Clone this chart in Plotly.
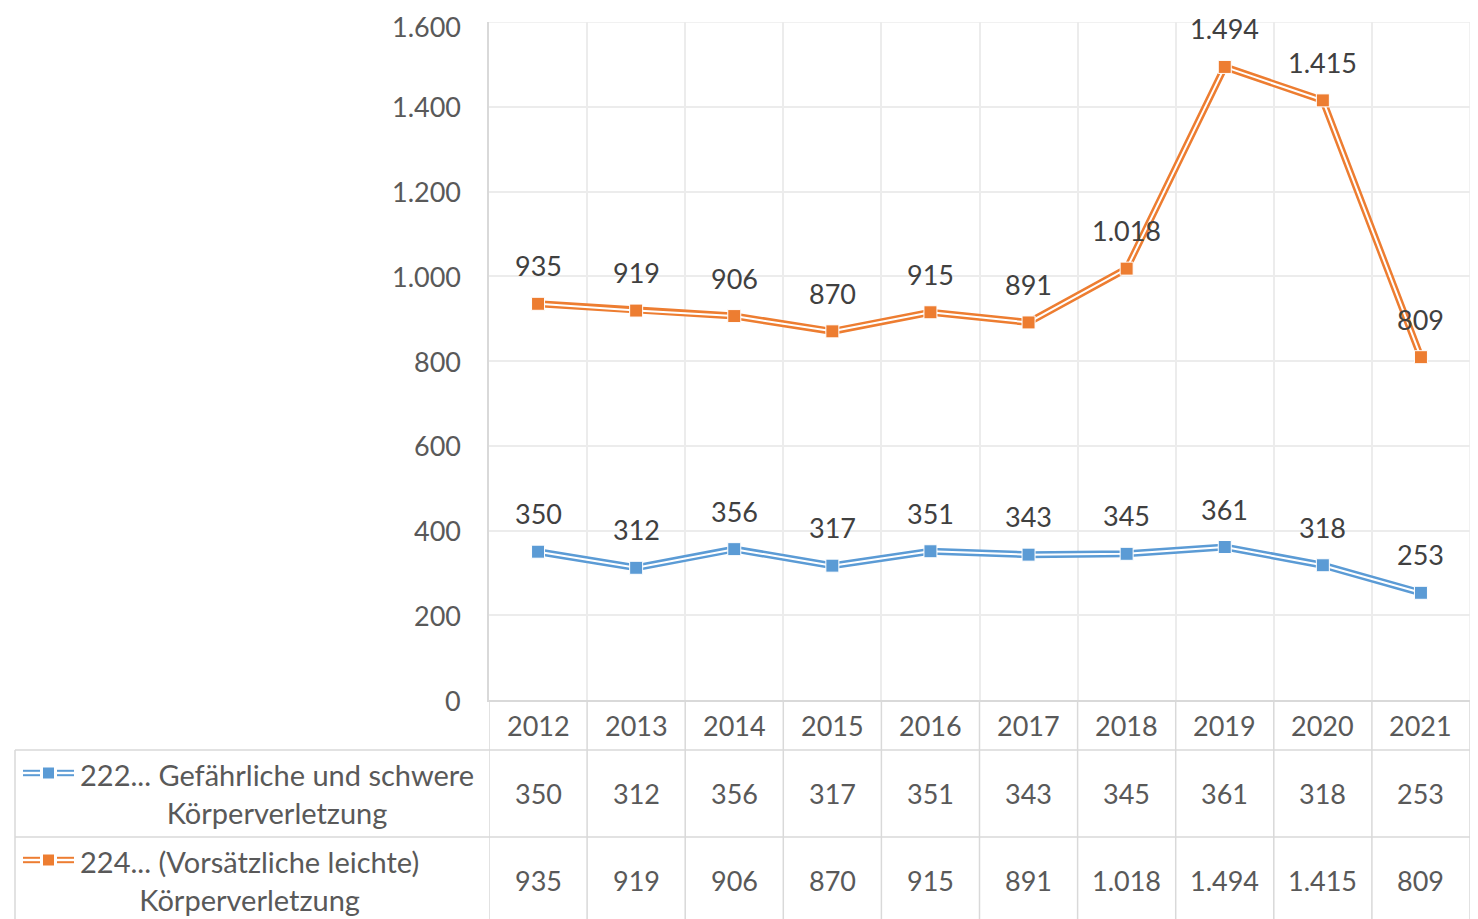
import plotly.graph_objects as go

years = ["2012", "2013", "2014", "2015", "2016", "2017", "2018", "2019", "2020", "2021"]
series_222 = [350, 312, 356, 317, 351, 343, 345, 361, 318, 253]
series_224 = [935, 919, 906, 870, 915, 891, 1018, 1494, 1415, 809]
names = ["222... Gefährliche und schwere<br>Körperverletzung",
         "224... (Vorsätzliche leichte)<br>Körperverletzung"]
colors = ["#5B9BD5", "#ED7D31"]
y_ticks = [0, 200, 400, 600, 800, 1000, 1200, 1400, 1600]
y_ticktext = ["0", "200", "400", "600", "800", "1.000", "1.200", "1.400", "1.600"]


def de(v):
    return f"{v:,}".replace(",", ".")


OFF = 8  # default page body margin
W, H = 1478 - OFF, 919 - OFF
PL, PR, PT, PB = 489, 1470, 22, 700  # plot area in page pixels
FONT = "Lato"
GRID = "#ECECEC"
TBL = "#D9D9D9"


def xp(px):
    return (px - PL) / (PR - PL)


def yp(px):
    return (PB - px) / (PB - PT)


xs = list(range(len(years)))
fig = go.Figure()

for vals, col in zip([series_222, series_224], colors):
    fig.add_trace(go.Scatter(x=xs, y=vals, mode="lines", line=dict(color=col, width=7),
                             hoverinfo="skip", showlegend=False))
    fig.add_trace(go.Scatter(x=xs, y=vals, mode="lines", line=dict(color="white", width=2),
                             hoverinfo="skip", showlegend=False))
    fig.add_trace(go.Scatter(x=xs, y=vals, mode="markers",
                             marker=dict(symbol="square", size=13, color=col,
                                         line=dict(color="white", width=1)),
                             showlegend=False))

annotations = []
# y tick labels (as annotations so the top one is not dropped)
for v, t in zip(y_ticks, y_ticktext):
    annotations.append(dict(x=0, y=v, xref="paper", yref="y", text=t, showarrow=False,
                            xanchor="right", yanchor="middle", xshift=-27, borderpad=0,
                            yshift=-4 if v == y_ticks[-1] else 0,
                            font=dict(family=FONT, size=27, color="#595959")))
# data labels
for vals in [series_222, series_224]:
    for x, v in zip(xs, vals):
        annotations.append(dict(x=x, y=v, xref="x", yref="y", text=de(v), showarrow=False,
                                yanchor="middle", yshift=38,
                                font=dict(family=FONT, size=27, color="#404040")))

# table: years
for x, yr in zip(xs, years):
    annotations.append(dict(x=x, y=yp(725), xref="x", yref="paper", text=yr, showarrow=False,
                            yanchor="middle", font=dict(family=FONT, size=27, color="#595959")))
# table values
row_centers = [793, 880]
for vals, yc in zip([series_222, series_224], row_centers):
    for x, v in zip(xs, vals):
        annotations.append(dict(x=x, y=yp(yc), xref="x", yref="paper", text=de(v), showarrow=False,
                                yanchor="middle", font=dict(family=FONT, size=27, color="#595959")))
# legend names
for name, yc in zip(names, row_centers):
    annotations.append(dict(x=xp(78), y=yp(yc), xref="paper", yref="paper", text=name,
                            showarrow=False, xanchor="left", yanchor="middle", align="center",
                            font=dict(family=FONT, size=29, color="#595959")))

shapes = []
# top gridline and right border of plot area
shapes.append(dict(type="line", xref="paper", yref="y", x0=0, x1=1, y0=y_ticks[-1], y1=y_ticks[-1],
                   line=dict(color=GRID, width=1.5), layer="below"))
shapes.append(dict(type="line", xref="paper", yref="paper", x0=1, x1=1, y0=0, y1=1,
                   line=dict(color=GRID, width=1.5), layer="below"))
line_tbl = dict(color=TBL, width=1.5)
# horizontal table lines
for ypx in [750, 837]:
    shapes.append(dict(type="line", xref="paper", yref="paper", x0=xp(15), x1=xp(1470),
                       y0=yp(ypx), y1=yp(ypx), line=line_tbl, layer="above"))
# left border of table
shapes.append(dict(type="line", xref="paper", yref="paper", x0=xp(15), x1=xp(15),
                   y0=yp(750), y1=yp(930), line=line_tbl))
# vertical table lines at category boundaries
for k in range(len(years) + 1):
    shapes.append(dict(type="line", xref="x", yref="paper", x0=k - 0.5, x1=k - 0.5,
                       y0=0, y1=yp(930), line=line_tbl))
# legend keys
key_rows = [773, 860]
for col, ypx in zip(colors, key_rows):
    for a, b in [(23, 40), (57, 74)]:
        for dy in [-2.2, 2.2]:
            shapes.append(dict(type="line", xref="paper", yref="paper", x0=xp(a), x1=xp(b),
                               y0=yp(ypx + dy), y1=yp(ypx + dy), line=dict(color=col, width=2)))
    shapes.append(dict(type="rect", xref="paper", yref="paper", x0=xp(43), x1=xp(54),
                       y0=yp(ypx + 5.5), y1=yp(ypx - 5.5), fillcolor=col, line=dict(width=0)))

fig.update_layout(
    width=W, height=H,
    margin=dict(l=PL - OFF, r=W - (PR - OFF), t=PT - OFF, b=H - (PB - OFF)),
    paper_bgcolor="white", plot_bgcolor="white",
    annotations=annotations, shapes=shapes,
    showlegend=False,
    xaxis=dict(range=[-0.5, len(years) - 0.5], tickvals=[k + 0.5 for k in range(len(years))],
               showticklabels=False, showgrid=True, gridcolor=GRID, gridwidth=1.5,
               showline=True, linecolor=TBL, linewidth=1.5, zeroline=False, fixedrange=True),
    yaxis=dict(range=[0, 1600], tickvals=y_ticks, showticklabels=False, showgrid=True,
               gridcolor=GRID, gridwidth=1.5, showline=True, linecolor=TBL, linewidth=1.5,
               zeroline=False, ticks="", fixedrange=True),
)

fig.write_html("out.html")
